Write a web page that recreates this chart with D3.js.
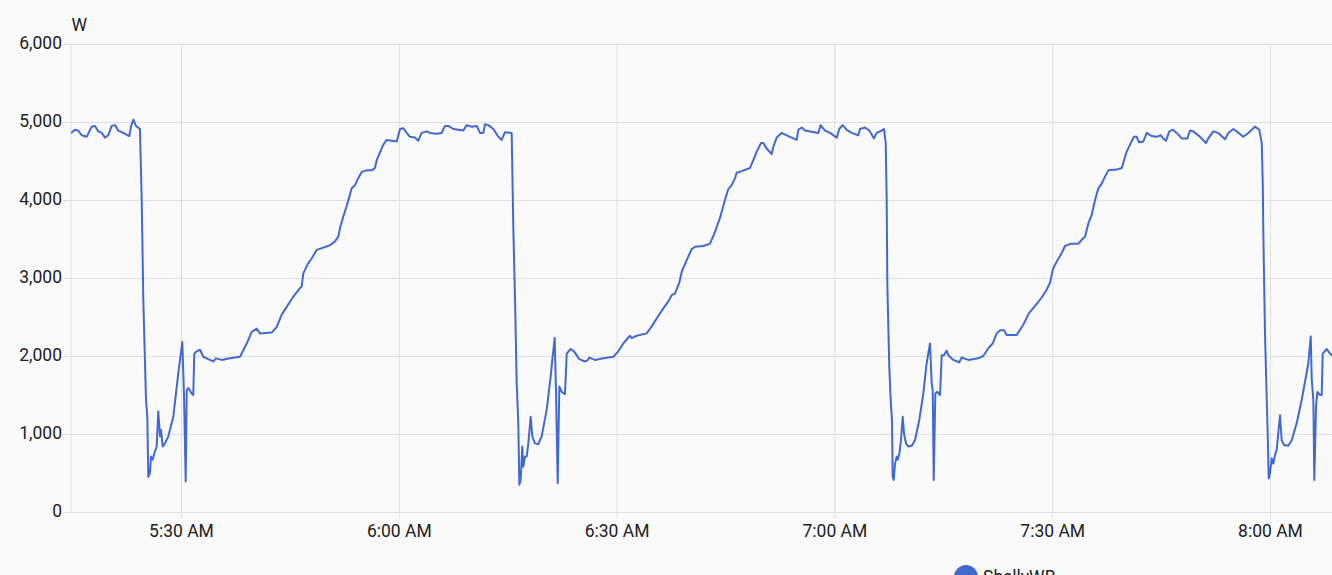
<!DOCTYPE html>
<html>
<head>
<meta charset="utf-8">
<script src="https://cdn.jsdelivr.net/npm/d3@7"></script>
<style>
  html, body { margin: 0; padding: 0; background: #fafafa; overflow: hidden; }
  svg { display: block; font-family: Roboto, "Noto Sans", sans-serif; }
</style>
</head>
<body>
<svg id="chart" width="1332" height="575"></svg>
<script>
// ---- data ----
const seriesName = "ShellyWB";
const unitLabel = "W";
const baseHour = 5; // minutes below are offsets from 05:00
const minutes = [
  14.85,15.40,15.85,16.32,17.01,17.70,18.15,18.61,19.08,19.53,19.99,20.45,20.91,21.36,22.05,22.88,23.11,23.43,23.80,24.35,
  24.59,24.81,25.18,25.36,25.50,25.73,25.87,26.10,26.32,26.65,26.87,27.11,27.25,27.48,27.80,28.25,28.94,29.63,30.18,30.41,
  30.65,30.79,31.01,31.47,31.69,31.83,32.16,32.62,33.07,33.76,34.45,34.82,35.61,36.75,38.13,39.05,39.74,40.43,40.88,42.49,
  43.18,43.87,44.56,45.47,46.39,46.62,46.85,47.53,48.00,48.69,49.60,50.52,51.21,51.67,51.90,52.36,52.82,53.18,53.51,53.97,
  54.42,54.89,55.58,56.27,56.72,56.96,57.41,57.87,58.33,59.02,59.71,60.17,60.62,61.09,61.54,62.23,62.69,63.15,63.84,64.30,
  65.22,65.91,66.36,66.82,67.51,68.20,68.88,69.35,70.04,70.73,71.18,71.64,71.87,72.33,73.02,73.71,74.17,74.63,75.55,75.63,
  75.77,76.01,76.24,76.46,76.60,76.79,77.01,77.15,77.38,77.62,77.84,78.17,78.39,78.76,79.21,79.68,80.37,80.92,81.19,81.47,
  81.65,81.89,82.11,82.44,82.89,83.13,83.68,84.13,84.86,85.65,85.96,86.24,87.02,88.17,89.55,90.23,90.92,91.85,92.08,92.77,
  94.15,94.84,95.52,96.43,97.13,97.59,98.04,98.64,98.97,99.66,100.34,100.80,101.94,102.87,103.55,104.24,104.93,105.39,105.85,106.31,
  106.54,107.23,108.37,108.83,109.30,109.89,110.21,110.67,111.36,111.58,112.05,112.74,113.65,114.81,115.03,115.50,115.95,117.78,118.11,118.71,
  119.39,120.32,120.67,121.14,121.69,122.38,123.29,123.53,124.21,124.81,125.45,125.83,126.51,126.83,127.07,127.20,127.29,127.56,127.75,127.93,
  128.03,128.17,128.35,128.58,128.72,128.95,129.17,129.41,129.59,129.86,130.18,130.65,131.10,131.69,132.25,132.71,133.17,133.40,133.54,133.68,
  133.90,134.17,134.55,134.78,135.10,135.47,135.69,136.38,137.20,137.53,138.44,139.82,140.51,141.20,141.80,142.35,142.81,143.36,143.73,145.11,
  146.02,146.80,147.70,148.55,149.24,149.70,150.11,150.62,151.31,151.76,152.59,153.60,154.07,154.52,154.98,155.44,155.90,156.36,156.82,157.27,
  157.73,158.89,159.58,159.89,160.26,160.72,161.27,161.64,161.96,162.55,163.02,163.71,164.40,164.95,165.30,165.67,166.13,166.60,167.15,167.84,
  168.61,168.98,169.43,170.36,171.18,171.50,172.19,172.88,173.80,174.26,174.94,175.41,176.32,177.01,177.93,178.53,178.86,179.00,179.08,179.31,
  179.55,179.68,179.82,180.00,180.23,180.45,180.69,180.92,181.14,181.38,181.61,181.93,182.52,182.99,183.68,184.37,184.96,185.28,185.61,185.75,
  185.97,186.10,186.34,186.52,186.89,187.12,187.26,187.81,188.26,188.82
];
const watts = [
  4860,4900,4890,4830,4810,4940,4950,4880,4860,4800,4830,4950,4960,4890,4860,4820,4940,5030,4950,4910,
  4000,2720,1440,1220,450,500,710,670,750,840,1290,970,1050,840,880,970,1220,1780,2180,1520,
  390,1560,1590,1520,1500,2030,2060,2080,1990,1960,1930,1970,1950,1970,1990,2160,2310,2350,2290,2300,
  2370,2530,2630,2760,2870,2890,3060,3190,3250,3360,3390,3420,3470,3530,3640,3790,3920,4040,4150,4190,
  4280,4360,4380,4380,4410,4510,4610,4710,4770,4760,4750,4910,4920,4860,4810,4800,4760,4860,4880,4860,
  4850,4860,4950,4950,4910,4900,4890,4960,4940,4950,4860,4860,4970,4960,4910,4810,4770,4870,4860,4430,
  3660,2720,1650,1140,350,410,840,580,710,710,880,1220,970,880,870,970,1310,1740,1990,2230,
  1560,370,1610,1540,1510,2030,2090,2060,1960,1930,1940,1980,1950,1970,1990,2060,2160,2260,2230,2260,
  2290,2380,2480,2610,2700,2780,2800,2940,3080,3230,3370,3400,3410,3440,3590,3770,4000,4140,4190,4280,
  4350,4370,4410,4510,4620,4730,4730,4660,4590,4680,4800,4860,4820,4770,4900,4930,4890,4860,4960,4890,
  4860,4800,4910,4960,4900,4860,4830,4910,4930,4890,4790,4860,4890,4910,4730,4000,2930,1860,1440,1180,
  450,410,620,710,670,750,920,1220,1010,880,840,850,920,1180,1520,1910,2160,1650,1560,410,
  1520,1540,1500,2010,2010,2070,2010,1950,1920,1980,1950,1970,2000,2100,2160,2290,2330,2330,2270,2270,
  2400,2550,2650,2750,2850,2940,3120,3210,3320,3410,3440,3440,3490,3530,3700,3810,4000,4150,4210,4300,
  4380,4390,4410,4510,4620,4710,4810,4810,4740,4750,4860,4820,4810,4830,4790,4760,4880,4900,4860,4790,
  4790,4890,4880,4810,4730,4790,4880,4860,4780,4860,4910,4880,4810,4860,4940,4900,4730,4210,3570,2290,
  1440,1010,430,500,690,620,730,800,1010,1240,920,860,850,920,1140,1440,1740,1910,2250,1690,
  1440,410,1350,1540,1500,1500,2030,2090,2030,1990
];
const xDomainMinutes = [14.85, 189.64];
const xTickMinutes = [30, 60, 90, 120, 150, 180];
const xTickLabels = ["5:30 AM", "6:00 AM", "6:30 AM", "7:00 AM", "7:30 AM", "8:00 AM"];
const yTicks = [0, 1000, 2000, 3000, 4000, 5000, 6000];
const yDomain = [0, 6000];

// ---- layout ----
const svg = d3.select("#chart");
const plot = { left: 71, right: 1340, top: 44, bottom: 512 };
const toDate = m => new Date(2024, 0, 1, baseHour, 0, 0, Math.round(m * 60000));

const x = d3.scaleTime().domain(xDomainMinutes.map(toDate)).range([plot.left, plot.right]);
const y = d3.scaleLinear().domain(yDomain).range([plot.bottom, plot.top]);

const gridColor = "#e0e0e0";
const textColor = "#212121";
const fontSize = "17.5px";

svg.append("rect").attr("width", 1332).attr("height", 575).attr("fill", "#fafafa");

// horizontal grid + y ticks
const yAxis = svg.append("g").attr("transform", `translate(${plot.left},0)`)
  .call(d3.axisLeft(y).tickValues(yTicks).tickSize(8).tickPadding(1)
    .tickFormat(d => d3.format(",")(d)));
yAxis.select(".domain").remove();
yAxis.selectAll(".tick line").attr("stroke", gridColor);
yAxis.selectAll(".tick text").attr("fill", textColor).attr("font-size", fontSize)
  .attr("font-family", "Roboto").attr("dy", "0.26em");

const yGrid = svg.append("g").attr("transform", `translate(${plot.left},0)`)
  .call(d3.axisLeft(y).tickValues(yTicks).tickSize(-(plot.right - plot.left)).tickFormat(""));
yGrid.select(".domain").remove();
yGrid.selectAll(".tick line").attr("stroke", gridColor);

// vertical grid + x ticks
const xAxis = svg.append("g").attr("transform", `translate(0,${plot.bottom})`)
  .call(d3.axisBottom(x).tickValues(xTickMinutes.map(toDate)).tickSize(6).tickPadding(7)
    .tickFormat((d, i) => xTickLabels[i]));
xAxis.select(".domain").remove();
xAxis.selectAll(".tick line").attr("stroke", gridColor);
xAxis.selectAll(".tick text").attr("fill", textColor).attr("font-size", fontSize)
  .attr("font-family", "Roboto");

const xGrid = svg.append("g").attr("transform", `translate(0,${plot.bottom})`)
  .call(d3.axisBottom(x).tickValues(xTickMinutes.map(toDate)).tickSize(-(plot.bottom - plot.top)).tickFormat(""));
xGrid.select(".domain").remove();
xGrid.selectAll(".tick line").attr("stroke", gridColor);

// left axis line
svg.append("line").attr("x1", plot.left).attr("x2", plot.left)
  .attr("y1", plot.top).attr("y2", plot.bottom).attr("stroke", gridColor);

// unit label
svg.append("text").attr("x", plot.left + 0.5).attr("y", 31)
  .attr("fill", textColor).attr("font-size", fontSize).text(unitLabel);

// line
const data = minutes.map((m, i) => ({ t: toDate(m), v: watts[i] }));
svg.append("clipPath").attr("id", "clip").append("rect")
  .attr("x", plot.left).attr("y", plot.top - 10)
  .attr("width", plot.right - plot.left).attr("height", plot.bottom - plot.top + 20);
svg.append("path").datum(data)
  .attr("clip-path", "url(#clip)")
  .attr("fill", "none").attr("stroke", "#4269d0").attr("stroke-width", 2)
  .attr("stroke-linejoin", "round")
  .attr("d", d3.line().x(d => x(d.t)).y(d => y(d.v)));

// legend
svg.append("circle").attr("cx", 966).attr("cy", 577).attr("r", 12).attr("fill", "#4269d0");
svg.append("text").attr("x", 983).attr("y", 583).attr("fill", textColor)
  .attr("font-size", fontSize).text(seriesName);
</script>
</body>
</html>
